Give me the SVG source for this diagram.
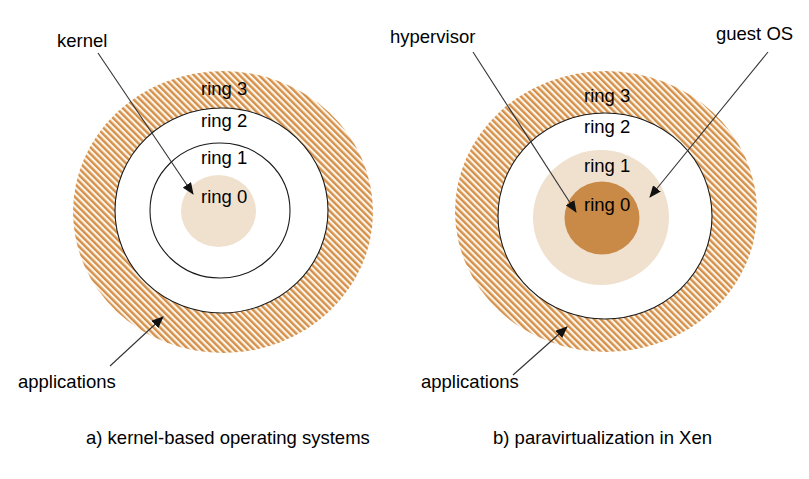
<svg xmlns="http://www.w3.org/2000/svg" width="809" height="479" viewBox="0 0 809 479">
  <style>
    text { font-family: "Liberation Sans", Arial, sans-serif; font-size: 18.5px; fill: #000; }
    .hatch { fill: url(#stripes); stroke: none; }
    .white { fill: #ffffff; stroke: #1a1a1a; stroke-width: 1.1; }
    .ring1 { fill: #ffffff; stroke: #1a1a1a; stroke-width: 1.1; }
    .light { fill: #f0e1cf; stroke: none; }
    .dark { fill: #c98a47; stroke: none; }
    .conn { stroke: #333; stroke-width: 1.1; fill: none; marker-end: url(#arrow); }
  </style>
  <defs>
    <pattern id="stripes" patternUnits="userSpaceOnUse" width="4.6" height="4.6" patternTransform="rotate(-45)">
      <rect x="0" y="0" width="4.6" height="4.6" fill="#fcf5ea"/>
      <rect x="0" y="0" width="2.4" height="4.6" fill="#d4904a"/>
    </pattern>
    <marker id="arrow" markerUnits="userSpaceOnUse" markerWidth="12" markerHeight="10" refX="11" refY="5" orient="auto">
      <path d="M0,0 L12,5 L0,10 Z" fill="#111"/>
    </marker>
  </defs>
  <rect width="809" height="479" fill="#ffffff"/>

  <!-- left diagram -->
  <g id="a-ring3">
    <ellipse class="hatch" cx="223" cy="212" rx="150" ry="141"/>
    <text x="201" y="95">ring 3</text>
  </g>
  <g id="a-ring2">
    <ellipse class="white" cx="221.5" cy="210.5" rx="106.5" ry="102.5"/>
    <text x="201" y="127">ring 2</text>
  </g>
  <g id="a-ring1">
    <ellipse class="ring1" cx="220" cy="210.5" rx="70" ry="67.5"/>
    <text x="201" y="164">ring 1</text>
  </g>
  <g id="a-ring0">
    <ellipse class="light" cx="218.5" cy="211" rx="37.5" ry="36"/>
    <text x="201" y="203">ring 0</text>
  </g>
  <g id="a-kernel"><text x="57" y="47">kernel</text></g>
  <g id="a-applications"><text x="18" y="388">applications</text></g>
  <g id="a-caption"><text x="86" y="444">a) kernel-based operating systems</text></g>

  <!-- right diagram -->
  <g id="b-ring3">
    <ellipse class="hatch" cx="606" cy="211.5" rx="151" ry="140.5"/>
    <text x="584" y="102">ring 3</text>
  </g>
  <g id="b-ring2">
    <ellipse class="white" cx="605" cy="216" rx="107" ry="103"/>
    <text x="584" y="133">ring 2</text>
  </g>
  <g id="b-ring1">
    <ellipse class="light" cx="601" cy="217.5" rx="68" ry="67.5"/>
    <text x="584" y="172">ring 1</text>
  </g>
  <g id="b-ring0">
    <ellipse class="dark" cx="602" cy="218" rx="37.5" ry="36.5"/>
    <text x="584" y="211">ring 0</text>
  </g>
  <g id="b-hypervisor"><text x="390" y="43">hypervisor</text></g>
  <g id="b-guestos"><text x="716" y="40">guest OS</text></g>
  <g id="b-applications"><text x="421" y="388">applications</text></g>
  <g id="b-caption"><text x="493" y="444">b) paravirtualization in Xen</text></g>

  <!-- connectors -->
  <g id="connectors">
    <line class="conn" x1="98" y1="53" x2="193" y2="194"/>
    <line class="conn" x1="110" y1="366" x2="163" y2="317"/>
    <line class="conn" x1="473" y1="52" x2="576" y2="212"/>
    <line class="conn" x1="768" y1="52" x2="650" y2="197"/>
    <line class="conn" x1="513" y1="375" x2="567" y2="327"/>
  </g>
</svg>
